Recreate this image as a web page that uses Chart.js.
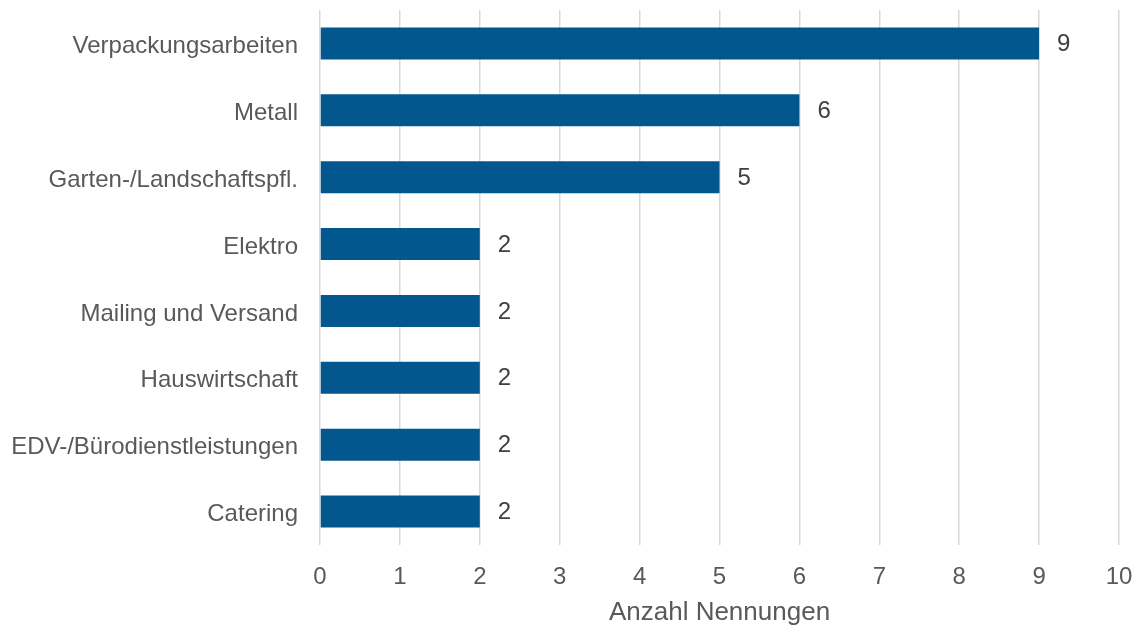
<!DOCTYPE html>
<html>
<head>
<meta charset="utf-8">
<script src="https://cdn.jsdelivr.net/npm/chart.js@4/dist/chart.umd.min.js"></script>
<style>
  html, body { margin: 0; padding: 0; background: #ffffff; }
  #wrap { width: 1142px; height: 628px; position: relative; }
</style>
</head>
<body>
<div id="wrap"><canvas id="c" width="1142" height="628"></canvas></div>
<script>
// Tätigkeitsfelder und Anzahl der Nennungen
const categories = [
  'Verpackungsarbeiten',
  'Metall',
  'Garten-/Landschaftspfl.',
  'Elektro',
  'Mailing und Versand',
  'Hauswirtschaft',
  'EDV-/Bürodienstleistungen',
  'Catering'
];
const counts = [9, 6, 5, 2, 2, 2, 2, 2];
const xTicks = [0, 1, 2, 3, 4, 5, 6, 7, 8, 9, 10];
const axisTitle = 'Anzahl Nennungen';

const FONT = '"Liberation Sans", Arial, Helvetica, sans-serif';
const TEXT_GREY = '#595959';

// Writes each bar's value just past its end
const valueLabels = {
  id: 'valueLabels',
  afterDatasetsDraw(chart) {
    const { ctx } = chart;
    const meta = chart.getDatasetMeta(0);
    ctx.save();
    ctx.font = '24px ' + FONT;
    ctx.fillStyle = '#404040';
    ctx.textAlign = 'left';
    ctx.textBaseline = 'middle';
    meta.data.forEach((bar, i) => {
      ctx.fillText(String(counts[i]), bar.x + 18, bar.y + 1);
    });
    ctx.restore();
  }
};

new Chart(document.getElementById('c'), {
  type: 'bar',
  data: {
    labels: categories,
    datasets: [{
      data: counts,
      backgroundColor: '#02578F',
      borderWidth: 0,
      barPercentage: 0.48,
      categoryPercentage: 1
    }]
  },
  options: {
    indexAxis: 'y',
    responsive: false,
    animation: false,
    devicePixelRatio: 1,
    layout: { padding: { top: 10, right: 23, bottom: 0, left: 0 } },
    plugins: {
      legend: { display: false },
      tooltip: { enabled: false }
    },
    scales: {
      x: {
        min: 0,
        max: 10,
        afterBuildTicks(scale) {
          scale.ticks = xTicks.map(v => ({ value: v }));
        },
        afterFit(scale) {
          scale.height = 83;
          scale.paddingLeft = 0;
          scale.paddingRight = 0;
        },
        grid: { color: '#d9d9d9', lineWidth: 1.5, drawTicks: false },
        border: { display: false },
        ticks: {
          color: TEXT_GREY,
          font: { family: FONT, size: 24 },
          padding: 18,
          maxRotation: 0
        },
        title: {
          display: true,
          text: axisTitle,
          color: TEXT_GREY,
          font: { family: FONT, size: 26 },
          padding: { top: 4, bottom: 0 }
        }
      },
      y: {
        afterFit(scale) {
          scale.width = 320;
          scale.paddingTop = 0;
          scale.paddingBottom = 0;
        },
        grid: { display: false, drawTicks: false },
        border: { display: false },
        ticks: {
          color: TEXT_GREY,
          font: { family: FONT, size: 24 },
          padding: 22,
          labelOffset: 3
        }
      }
    }
  },
  plugins: [valueLabels]
});
</script>
</body>
</html>
